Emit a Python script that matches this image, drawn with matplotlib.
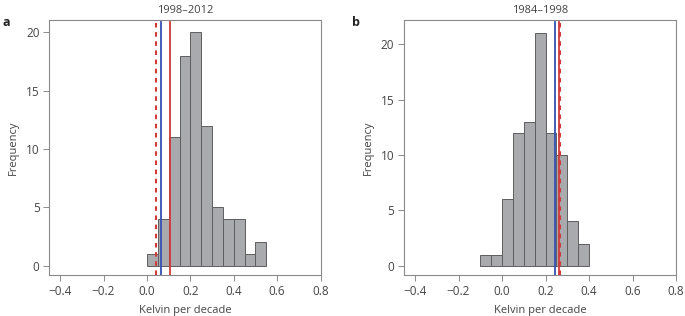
import numpy as np
import matplotlib
matplotlib.use('Agg')
import matplotlib.pyplot as plt

plt.rcParams['font.family'] = ['Open Sans', 'DejaVu Sans']

# Panel a: 1998-2012 trends
edges_a = np.arange(0.0, 0.5501, 0.05)
counts_a = [1, 4, 11, 18, 20, 12, 5, 4, 4, 1, 2]
lines_a = {'dashed_red': 0.041, 'blue': 0.065, 'red': 0.106}

# Panel b: 1984-1998 trends
edges_b = np.arange(-0.1, 0.4001, 0.05)
counts_b = [1, 1, 6, 12, 13, 21, 12, 10, 4, 2]
lines_b = {'blue': 0.244, 'red': 0.262, 'dashed_red': 0.266}

xticks = [-0.4, -0.2, 0.0, 0.2, 0.4, 0.6, 0.8]
yticks = [0, 5, 10, 15, 20]

spine_col = '#8a8a8a'
text_col = '#444444'
bar_col = '#a9aaae'
edge_col = '#5e5e5e'
blue = '#3552b5'
red = '#d03a3a'

fig = plt.figure(figsize=(6.85, 3.16), dpi=100)
ax_a = fig.add_axes([0.072, 0.129, 0.396, 0.808])
ax_b = fig.add_axes([0.590, 0.129, 0.397, 0.808])

def draw(ax, edges, counts, lines, title, ylim):
    ax.bar(edges[:-1], counts, width=0.05, align='edge', color=bar_col,
           edgecolor=edge_col, linewidth=0.7, zorder=2)
    ax.axvline(lines['blue'], ymin=0, ymax=0.99, color=blue, lw=1.3, zorder=3)
    ax.axvline(lines['red'], ymin=0, ymax=0.99, color=red, lw=1.3, zorder=3)
    ax.axvline(lines['dashed_red'], ymin=0, ymax=0.99, color=red, lw=1.5,
               ls=(0, (2.2, 2.2)), zorder=4)
    ax.set_xlim(-0.45, 0.8)
    ax.set_ylim(*ylim)
    ax.set_xticks(xticks)
    ax.set_xticklabels(['\u22120.4', '\u22120.2', '0.0', '0.2', '0.4', '0.6', '0.8'])
    ax.set_yticks(yticks)
    for s in ax.spines.values():
        s.set_color(spine_col)
        s.set_linewidth(0.8)
    ax.tick_params(direction='out', length=4, width=0.7, color=spine_col,
                   labelcolor=text_col, labelsize=8.5, pad=3)
    ax.set_xlabel('Kelvin per decade', fontsize=8, color=text_col, labelpad=5)
    ax.set_ylabel('Frequency', fontsize=8, color=text_col, labelpad=5)
    ax.set_title(title, fontsize=8, color=text_col, pad=5)

draw(ax_a, edges_a, counts_a, lines_a, '1998\u20132012', (-0.82, 21.05))
draw(ax_b, edges_b, counts_b, lines_b, '1984\u20131998', (-0.86, 22.2))

fig.text(0.004, 0.93, 'a', fontsize=9, fontweight='bold', color='#222222', va='center')
fig.text(0.514, 0.93, 'b', fontsize=9, fontweight='bold', color='#222222', va='center')

fig.savefig('out.png', dpi=100)
